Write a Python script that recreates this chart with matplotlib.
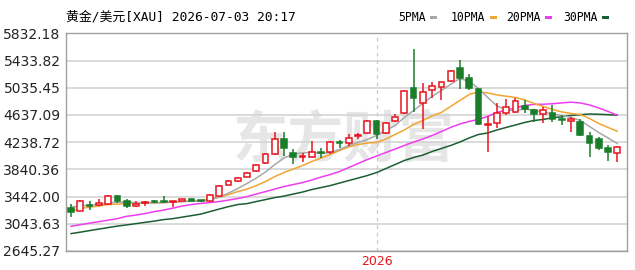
import numpy as np
import matplotlib
matplotlib.use("Agg")
import matplotlib.pyplot as plt
from matplotlib.patches import Rectangle

# ---- data (weekly candles) ----
opens = [3276, 3237, 3318, 3314, 3335, 3446, 3370, 3300, 3350, 3378,
         3370, 3360, 3373, 3408, 3384, 3383, 3456, 3618, 3666, 3730,
         3813, 3940, 4063, 4287, 4080, 4015, 4024, 4088, 4098, 4232,
         4229, 4330, 4375, 4555, 4375, 4555, 4659, 5035, 4806, 5001,
         5050, 5137, 5319, 5181, 5011, 4495, 4521, 4659, 4682, 4766,
         4708, 4650, 4668, 4575, 4551, 4536, 4326, 4278, 4146, 4082]
highs = [3335, 3385, 3375, 3410, 3460, 3470, 3408, 3373, 3372, 3398,
         3456, 3376, 3412, 3412, 3395, 3481, 3618, 3690, 3730, 3800,
         3925, 4083, 4390, 4390, 4145, 4083, 4253, 4156, 4253, 4273,
         4361, 4375, 4570, 4570, 4530, 4646, 5001, 5597, 5100, 5114,
         5125, 5294, 5440, 5236, 5026, 4620, 4806, 4864, 4879, 4854,
         4720, 4747, 4781, 4635, 4610, 4571, 4380, 4317, 4190, 4180]
lows = [3144, 3228, 3252, 3300, 3325, 3350, 3276, 3285, 3300, 3350,
        3352, 3285, 3370, 3375, 3368, 3360, 3446, 3605, 3660, 3725,
        3805, 3925, 4055, 4030, 3925, 3945, 4010, 4010, 4058, 4156,
        4180, 4278, 4365, 4288, 4365, 4540, 4646, 4682, 4425, 4879,
        4855, 5122, 5024, 5001, 4488, 4097, 4440, 4635, 4659, 4668,
        4536, 4512, 4536, 4488, 4380, 4326, 4028, 4122, 3970, 3950]
closes = [3218, 3373, 3302, 3352, 3446, 3373, 3300, 3339, 3368, 3360,
          3360, 3373, 3408, 3380, 3380, 3471, 3603, 3667, 3720, 3789,
          3911, 4060, 4287, 4150, 4020, 4030, 4092, 4080, 4244, 4225,
          4302, 4340, 4546, 4361, 4517, 4609, 4990, 4879, 4976, 5060,
          5114, 5284, 5181, 5035, 4503, 4510, 4668, 4747, 4844, 4730,
          4645, 4708, 4571, 4565, 4575, 4341, 4228, 4146, 4100, 4170]

ma5 = [3288, 3303, 3317, 3325, 3347, 3361, 3361, 3354, 3347, 3347,
       3354, 3361, 3369, 3376, 3376, 3391, 3435, 3493, 3559, 3633,
       3713, 3801, 3911, 4006, 4065, 4080, 4094, 4072, 4087, 4131,
       4190, 4234, 4278, 4336, 4410, 4483, 4600, 4703, 4806, 4908,
       4996, 5084, 5172, 5128, 5026, 4893, 4769, 4710, 4703, 4725,
       4703, 4681, 4651, 4629, 4600, 4556, 4468, 4380, 4300, 4219]
ma10 = [3237, 3266, 3288, 3303, 3325, 3332, 3339, 3347, 3354, 3354,
        3354, 3361, 3369, 3376, 3383, 3405, 3435, 3471, 3515, 3552,
        3603, 3662, 3735, 3794, 3845, 3896, 3955, 4006, 4058, 4116,
        4168, 4204, 4226, 4234, 4285, 4351, 4417, 4498, 4556, 4622,
        4674, 4762, 4849, 4937, 4974, 4959, 4930, 4911, 4893, 4857,
        4805, 4761, 4717, 4681, 4659, 4644, 4585, 4512, 4454, 4400]
ma20 = [3007, 3031, 3053, 3075, 3097, 3119, 3153, 3171, 3193, 3222,
        3244, 3273, 3303, 3325, 3342, 3354, 3369, 3391, 3413, 3442,
        3479, 3515, 3552, 3589, 3618, 3647, 3684, 3728, 3765, 3809,
        3867, 3926, 3984, 4036, 4087, 4138, 4190, 4241, 4285, 4336,
        4395, 4454, 4505, 4542, 4571, 4615, 4674, 4710, 4739, 4776,
        4791, 4794, 4801, 4813, 4824, 4813, 4783, 4739, 4688, 4634]
ma30 = [2900, 2921, 2944, 2966, 2988, 3010, 3027, 3046, 3065, 3083,
        3105, 3119, 3141, 3163, 3185, 3222, 3259, 3295, 3325, 3339,
        3369, 3398, 3427, 3449, 3479, 3508, 3545, 3574, 3603, 3640,
        3677, 3713, 3750, 3794, 3852, 3911, 3970, 4014, 4050, 4102,
        4146, 4190, 4241, 4300, 4351, 4373, 4417, 4454, 4490, 4527,
        4556, 4571, 4596, 4610, 4629, 4641, 4651, 4647, 4641, 4634]

yticks = [2645.27, 3043.63, 3442.00, 3840.36, 4238.72, 4637.09, 5035.45, 5433.82, 5832.18]
year_idx = 33
year_label = "2026"
title = "黄金/美元[XAU] 2026-07-03 20:17"
ma_names = ["5PMA", "10PMA", "20PMA", "30PMA"]

UP = "#e8141e"
DOWN = "#1a7d2a"
MA_COLORS = ["#a8a8a8", "#f2a531", "#f03cf0", "#1c5e34"]

fig = plt.figure(figsize=(6.35, 2.7), dpi=100)
ax = fig.add_axes([66 / 635, 1 - 251 / 270, (627 - 66) / 635, (251 - 33.3) / 270])

x = np.arange(len(opens))
o = np.array(opens, float)
c = np.array(closes, float)
up = c >= o

# faint site watermark
ax.text(29.5, 4250, "东方财富", fontsize=40, fontweight="bold", color="#e6e6e6",
        ha="center", va="center", family=["Noto Sans CJK SC"], zorder=0)

# grid + year divider
for t in yticks:
    ax.axhline(t, color="#d4d4d4", lw=1.2, zorder=1)
ax.axvline(year_idx, color="#c8c8c8", lw=0.9, ls=(0, (3, 3)), zorder=1)

# moving averages
for vals, col in zip([ma30, ma20, ma10, ma5], MA_COLORS[::-1]):
    ax.plot(x, vals, color=col, lw=1.1, zorder=2)

# candles
w = 0.62
for i in range(len(x)):
    col = UP if up[i] else DOWN
    ax.vlines(x[i], lows[i], highs[i], color=col, lw=1.1, zorder=3)
    lo, hi = min(o[i], c[i]), max(o[i], c[i])
    h = max(hi - lo, 10)
    ax.add_patch(Rectangle((x[i] - w / 2, lo), w, h,
                           facecolor="white" if up[i] else DOWN,
                           edgecolor=col, lw=1.1, zorder=4))

ax.set_xlim(-0.55, 60.05)
ax.set_ylim(yticks[0], yticks[-1])
ax.set_yticks(yticks)
ax.set_yticklabels([f"{t:.2f}" for t in yticks], fontsize=10, color="#222222")
ax.tick_params(axis="y", length=0, pad=4)
ax.set_xticks([year_idx])
ax.set_xticklabels([year_label], fontsize=9, color="#e8141e")
ax.tick_params(axis="x", length=0, pad=3)
for s in ax.spines.values():
    s.set_color("#a0a0a0")
    s.set_linewidth(1.0)

fam = ["DejaVu Sans Mono", "Noto Sans CJK SC"]
fig.text(66 / 635, 1 - 16.5 / 270, title, fontsize=9.3, family=fam, va="center", ha="left")

lx = [398, 451, 506, 563]
for name, col, px in zip(ma_names, MA_COLORS, lx):
    fig.text(px / 635, 1 - 17.5 / 270, name, fontsize=8.3, family=fam, va="center", ha="left")
    sw = px + len(name) * 7.4 + 2
    fig.patches.append(Rectangle((sw / 635, 1 - 19 / 270), 7 / 635, 3 / 270,
                                 transform=fig.transFigure, facecolor=col, edgecolor="none"))

fig.savefig("out.png", dpi=100)
